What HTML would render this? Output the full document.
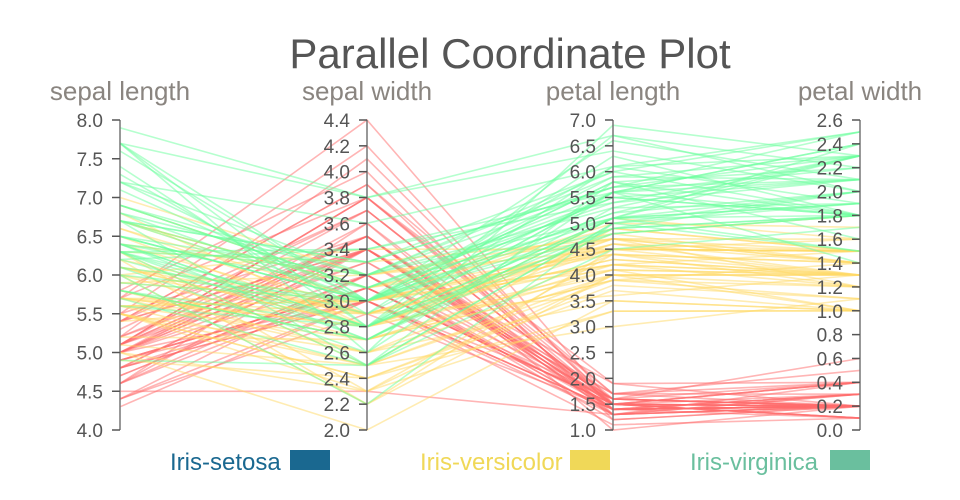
<!DOCTYPE html>
<html><head><meta charset="utf-8"><style>
body{margin:0;background:#fff}
svg{display:block;font-family:"Liberation Sans","DejaVu Sans",sans-serif}
</style></head><body>
<svg id="c" width="960" height="500" xmlns="http://www.w3.org/2000/svg">
<text x="510" y="68" text-anchor="middle" font-size="42" fill="#555">Parallel Coordinate Plot</text>
<g id="lines" fill="none" stroke-width="1.6" stroke-opacity="0.5"></g>
<g id="axes"></g>
<text x="170" y="470" font-size="24" fill="#1a6890">Iris-setosa</text>
<rect x="290" y="450" width="40" height="20" fill="#1a6890"/>
<text x="420" y="470" font-size="24" fill="#f0d858">Iris-versicolor</text>
<rect x="570" y="450" width="40" height="20" fill="#f0d858"/>
<text x="690" y="470" font-size="24" fill="#6abf9e">Iris-virginica</text>
<rect x="830" y="450" width="40" height="20" fill="#6abf9e"/>
</svg>
<script>
var S="5.1,3.5,1.4,0.2 4.9,3.0,1.4,0.2 4.7,3.2,1.3,0.2 4.6,3.1,1.5,0.2 5.0,3.6,1.4,0.2 5.4,3.9,1.7,0.4 4.6,3.4,1.4,0.3 5.0,3.4,1.5,0.2 4.4,2.9,1.4,0.2 4.9,3.1,1.5,0.1 5.4,3.7,1.5,0.2 4.8,3.4,1.6,0.2 4.8,3.0,1.4,0.1 4.3,3.0,1.1,0.1 5.8,4.0,1.2,0.2 5.7,4.4,1.5,0.4 5.4,3.9,1.3,0.4 5.1,3.5,1.4,0.3 5.7,3.8,1.7,0.3 5.1,3.8,1.5,0.3 5.4,3.4,1.7,0.2 5.1,3.7,1.5,0.4 4.6,3.6,1.0,0.2 5.1,3.3,1.7,0.5 4.8,3.4,1.9,0.2 5.0,3.0,1.6,0.2 5.0,3.4,1.6,0.4 5.2,3.5,1.5,0.2 5.2,3.4,1.4,0.2 4.7,3.2,1.6,0.2 4.8,3.1,1.6,0.2 5.4,3.4,1.5,0.4 5.2,4.1,1.5,0.1 5.5,4.2,1.4,0.2 4.9,3.1,1.5,0.1 5.0,3.2,1.2,0.2 5.5,3.5,1.3,0.2 4.9,3.1,1.5,0.1 4.4,3.0,1.3,0.2 5.1,3.4,1.5,0.2 5.0,3.5,1.3,0.3 4.5,2.3,1.3,0.3 4.4,3.2,1.3,0.2 5.0,3.5,1.6,0.6 5.1,3.8,1.9,0.4 4.8,3.0,1.4,0.3 5.1,3.8,1.6,0.2 4.6,3.2,1.4,0.2 5.3,3.7,1.5,0.2 5.0,3.3,1.4,0.2";
var V="7.0,3.2,4.7,1.4 6.4,3.2,4.5,1.5 6.9,3.1,4.9,1.5 5.5,2.3,4.0,1.3 6.5,2.8,4.6,1.5 5.7,2.8,4.5,1.3 6.3,3.3,4.7,1.6 4.9,2.4,3.3,1.0 6.6,2.9,4.6,1.3 5.2,2.7,3.9,1.4 5.0,2.0,3.5,1.0 5.9,3.0,4.2,1.5 6.0,2.2,4.0,1.0 6.1,2.9,4.7,1.4 5.6,2.9,3.6,1.3 6.7,3.1,4.4,1.4 5.6,3.0,4.5,1.5 5.8,2.7,4.1,1.0 6.2,2.2,4.5,1.5 5.6,2.5,3.9,1.1 5.9,3.2,4.8,1.8 6.1,2.8,4.0,1.3 6.3,2.5,4.9,1.5 6.1,2.8,4.7,1.2 6.4,2.9,4.3,1.3 6.6,3.0,4.4,1.4 6.8,2.8,4.8,1.4 6.7,3.0,5.0,1.7 6.0,2.9,4.5,1.5 5.7,2.6,3.5,1.0 5.5,2.4,3.8,1.1 5.5,2.4,3.7,1.0 5.8,2.7,3.9,1.2 6.0,2.7,5.1,1.6 5.4,3.0,4.5,1.5 6.0,3.4,4.5,1.6 6.7,3.1,4.7,1.5 6.3,2.3,4.4,1.3 5.6,3.0,4.1,1.3 5.5,2.5,4.0,1.3 5.5,2.6,4.4,1.2 6.1,3.0,4.6,1.4 5.8,2.6,4.0,1.2 5.0,2.3,3.3,1.0 5.6,2.7,4.2,1.3 5.7,3.0,4.2,1.2 5.7,2.9,4.2,1.3 6.2,2.9,4.3,1.3 5.1,2.5,3.0,1.1 5.7,2.8,4.1,1.3";
var G="6.3,3.3,6.0,2.5 5.8,2.7,5.1,1.9 7.1,3.0,5.9,2.1 6.3,2.9,5.6,1.8 6.5,3.0,5.8,2.2 7.6,3.0,6.6,2.1 4.9,2.5,4.5,1.7 7.3,2.9,6.3,1.8 6.7,2.5,5.8,1.8 7.2,3.6,6.1,2.5 6.5,3.2,5.1,2.0 6.4,2.7,5.3,1.9 6.8,3.0,5.5,2.1 5.7,2.5,5.0,2.0 5.8,2.8,5.1,2.4 6.4,3.2,5.3,2.3 6.5,3.0,5.5,1.8 7.7,3.8,6.7,2.2 7.7,2.6,6.9,2.3 6.0,2.2,5.0,1.5 6.9,3.2,5.7,2.3 5.6,2.8,4.9,2.0 7.7,2.8,6.7,2.0 6.3,2.7,4.9,1.8 6.7,3.3,5.7,2.1 7.2,3.2,6.0,1.8 6.2,2.8,4.8,1.8 6.1,3.0,4.9,1.8 6.4,2.8,5.6,2.1 7.2,3.0,5.8,1.6 7.4,2.8,6.1,1.9 7.9,3.8,6.4,2.0 6.4,2.8,5.6,2.2 6.3,2.8,5.1,1.5 6.1,2.6,5.6,1.4 7.7,3.0,6.1,2.3 6.3,3.4,5.6,2.4 6.4,3.1,5.5,1.8 6.0,3.0,4.8,1.8 6.9,3.1,5.4,2.1 6.7,3.1,5.6,2.4 6.9,3.1,5.1,2.3 5.8,2.7,5.1,1.9 6.8,3.2,5.9,2.3 6.7,3.3,5.7,2.5 6.7,3.0,5.2,2.3 6.3,2.5,5.0,1.9 6.5,3.0,5.2,2.0 6.2,3.4,5.4,2.3 5.9,3.0,5.1,1.8";
var ax=[{x:120,min:4,max:8,step:0.5,t:"sepal length"},{x:367,min:2,max:4.4,step:0.2,t:"sepal width"},{x:613,min:1,max:7,step:0.5,t:"petal length"},{x:860,min:0,max:2.6,step:0.2,t:"petal width"}];
var T0=120,B0=430;
function Y(a,v){return B0-(v-a.min)/(a.max-a.min)*(B0-T0);}
var h="";
[[S,"#ff6b6b"],[V,"#ffd966"],[G,"#6bff9e"]].forEach(function(p){
 p[0].split(" ").forEach(function(r){var v=r.split(",").map(Number);
  h+='<polyline stroke="'+p[1]+'" points="'+v.map(function(d,i){return ax[i].x+","+Y(ax[i],d).toFixed(1)}).join(" ")+'"/>';});
});
document.getElementById("lines").innerHTML=h;
var a="";
ax.forEach(function(A){
 a+='<line x1="'+A.x+'" y1="'+T0+'" x2="'+A.x+'" y2="'+B0+'" stroke="#777" stroke-width="1.5"/>';
 a+='<text x="'+A.x+'" y="100" text-anchor="middle" font-size="26" fill="#8a8580">'+A.t+'</text>';
 var n=Math.round((A.max-A.min)/A.step);
 for(var i=0;i<=n;i++){var v=A.min+i*A.step,y=Y(A,v);
  a+='<line x1="'+(A.x-8)+'" y1="'+y+'" x2="'+A.x+'" y2="'+y+'" stroke="#555" stroke-width="1.5"/>';
  a+='<text x="'+(A.x-17)+'" y="'+(y+7)+'" text-anchor="end" font-size="19" fill="#555">'+v.toFixed(1)+'</text>';}
});
document.getElementById("axes").innerHTML=a;
</script>
</body></html>
